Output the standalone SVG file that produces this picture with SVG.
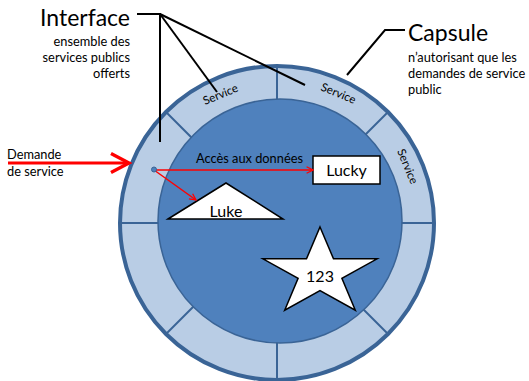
<svg xmlns="http://www.w3.org/2000/svg" width="529" height="381" viewBox="0 0 529 381">
<style>
text{font-family:Lato,"Open Sans","Liberation Sans",sans-serif;fill:#000}
.t12{font-size:12.8px}
.big{font-size:23px}
.svc{font-size:11.5px}
.lbl{font-size:16px}
.blk{stroke:#000;stroke-width:2;fill:none}
.div{stroke:#3a6496;stroke-width:2}
.red{stroke:#ff0000;fill:none}
</style>
<defs>
<marker id="ah" viewBox="0 0 10 10" refX="9" refY="5" markerWidth="8" markerHeight="8" markerUnits="userSpaceOnUse" orient="auto">
<path d="M1,1 L9,5 L1,9" fill="none" stroke="#ff0000" stroke-width="1.6"/>
</marker>
<marker id="ahBig" viewBox="0 0 10 10" refX="8.5" refY="5" markerWidth="8" markerHeight="8" orient="auto">
<path d="M1,1 L8.5,5 L1,9" fill="none" stroke="#ff0000" stroke-width="1.4"/>
</marker>
</defs>
<g id="capsule">
<circle cx="277" cy="223" r="157" fill="#b9cde5" stroke="#3a6496" stroke-width="4"/>
<g class="div">
<line x1="277" y1="223" x2="434" y2="223"/>
<line x1="277" y1="223" x2="120" y2="223"/>
<line x1="277" y1="223" x2="277" y2="66"/>
<line x1="277" y1="223" x2="277" y2="380"/>
<line x1="277" y1="223" x2="388" y2="112"/>
<line x1="277" y1="223" x2="166" y2="112"/>
<line x1="277" y1="223" x2="388" y2="334"/>
<line x1="277" y1="223" x2="166" y2="334"/>
</g>
<circle cx="280" cy="221" r="122" fill="#4f81bd" stroke="#3a6496" stroke-width="1.5"/>
<text class="svc" text-anchor="middle" transform="translate(222,98) rotate(-22.5)">Service</text>
<text class="svc" text-anchor="middle" transform="translate(337,97) rotate(22.5)">Service</text>
<text class="svc" text-anchor="middle" transform="translate(404,168) rotate(67.5)">Service</text>
</g>
<g id="interface">
<text class="big" x="130" y="26" text-anchor="end">Interface</text>
<text class="t12" x="130" y="46" text-anchor="end">ensemble des</text>
<text class="t12" x="130" y="62" text-anchor="end">services publics</text>
<text class="t12" x="130" y="78" text-anchor="end">offerts</text>
</g>
<g id="capsule-label">
<text class="big" x="408" y="41">Capsule</text>
<text class="t12" x="408" y="62">n’autorisant que les</text>
<text class="t12" x="408" y="78">demandes de service</text>
<text class="t12" x="408" y="94">public</text>
</g>
<g id="demande">
<text class="t12" x="7" y="159">Demande</text>
<text class="t12" x="7" y="176">de service</text>
</g>
<g id="lucky">
<rect x="313" y="156" width="67" height="28" fill="#fff" stroke="#000" stroke-width="1.5"/>
<text class="lbl" x="346.5" y="176" text-anchor="middle">Lucky</text>
</g>
<g id="luke">
<polygon points="168,219 226,183 283,219" fill="#fff" stroke="#000" stroke-width="1.5"/>
<text class="lbl" x="226" y="217" text-anchor="middle">Luke</text>
</g>
<g id="star">
<polygon points="320,227 333.5,258.8 377.1,258.8 341.9,278.4 355.3,310.2 320,290.6 284.7,310.2 298.1,278.4 262.9,258.8 306.5,258.8" fill="#fff" stroke="#000" stroke-width="1.5"/>
<text class="lbl" x="320" y="282" text-anchor="middle">123</text>
</g>
<g id="connectors">
<polyline class="blk" points="137,14 160,14 160,142"/>
<line class="blk" x1="160" y1="14" x2="217" y2="92"/>
<line class="blk" x1="160" y1="14" x2="305" y2="85"/>
<polyline class="blk" points="347,75 385,30 405,30"/>
<line class="red" x1="8" y1="163" x2="129" y2="163" stroke-width="3" marker-end="url(#ahBig)"/>
<line class="red" x1="154" y1="170" x2="313" y2="170" stroke-width="1.5" marker-end="url(#ah)"/>
<line class="red" x1="154" y1="170" x2="196" y2="200" stroke-width="1.5" marker-end="url(#ah)"/>
<text class="t12" x="196" y="163">Accès aux données</text>
<circle cx="154" cy="169.5" r="2.5" fill="#4f81bd" stroke="#3a6496" stroke-width="1"/>
</g>
</svg>
